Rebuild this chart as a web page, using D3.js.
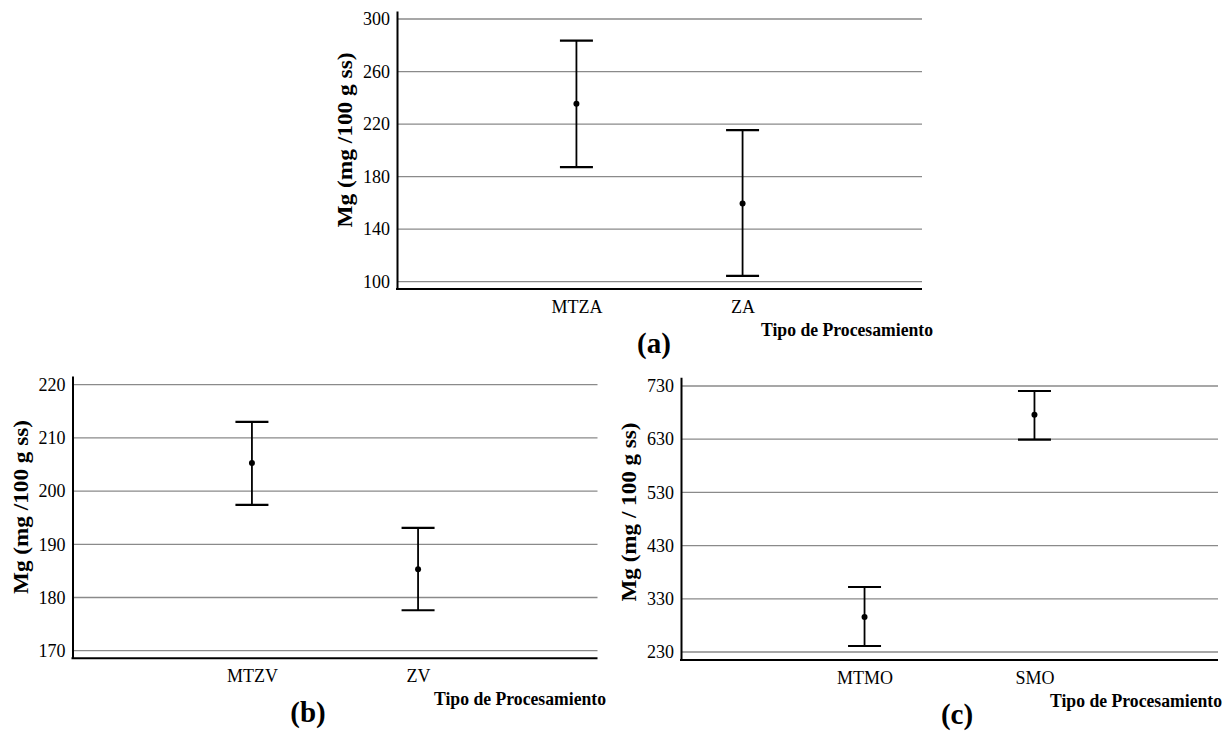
<!DOCTYPE html>
<html>
<head>
<meta charset="utf-8">
<script src="https://cdn.jsdelivr.net/npm/d3@7"></script>
<style>
  html, body { margin: 0; padding: 0; background: #fff; }
  svg { display: block; }
  svg text { font-family: "Liberation Serif", "Times New Roman", serif !important; fill: #000; }
  .tick text { font-size: 18px !important; }
</style>
</head>
<body>
<svg id="chart" width="1229" height="731"></svg>
<script>
// ---- Data ----
const catsA = ["MTZA", "ZA"];
const meanA = [235.5, 159.6];
const upperA = [283.5, 215.4];
const lowerA = [187.2, 104.4];
const ticksA = [100, 140, 180, 220, 260, 300];

const catsB = ["MTZV", "ZV"];
const meanB = [205.3, 185.3];
const upperB = [213.0, 193.1];
const lowerB = [197.4, 177.6];
const ticksB = [170, 180, 190, 200, 210, 220];

const catsC = ["MTMO", "SMO"];
const meanC = [295.8, 676.1];
const upperC = [352.2, 720.6];
const lowerC = [241.3, 629.1];
const ticksC = [230, 330, 430, 530, 630, 730];

const yTitleA = "Mg (mg /100 g ss)";
const yTitleB = "Mg (mg /100 g ss)";
const yTitleC = "Mg (mg / 100 g ss)";
const xTitle = "Tipo de Procesamiento";

// ---- Layout ----
const svg = d3.select("#chart");
const SERIF = "Liberation Serif, Times New Roman, serif";

function panel(cfg) {
  const g = svg.append("g");
  const x = d3.scalePoint().domain(cfg.cats).range([cfg.left, cfg.right]).padding(1.08);
  const y = d3.scaleLinear().domain(cfg.domain).range([cfg.bottom, cfg.top]);

  // grid lines
  g.append("g").selectAll("line").data(cfg.ticks).join("line")
    .attr("x1", cfg.left).attr("x2", cfg.right)
    .attr("y1", d => y(d)).attr("y2", d => y(d))
    .attr("stroke", "#8a8a8a").attr("stroke-width", 1.3);

  // y axis
  const ya = g.append("g").attr("transform", `translate(${cfg.left},0)`)
    .call(d3.axisLeft(y).tickValues(cfg.ticks).tickSize(0).tickPadding(7).tickFormat(d3.format("d")));
  ya.attr("font-family", SERIF).attr("font-size", 18);
  ya.select(".domain").attr("stroke", "#000").attr("stroke-width", 2);
  ya.selectAll("text").attr("fill", "#000");

  // x axis
  const xa = g.append("g").attr("transform", `translate(0,${cfg.bottom})`)
    .call(d3.axisBottom(x).tickSize(0).tickPadding(0));
  xa.attr("font-family", SERIF).attr("font-size", 18);
  xa.select(".domain").attr("stroke", "#000").attr("stroke-width", 2).attr("d", `M${cfg.left - 1},0H${cfg.right}`);
  xa.selectAll("text").attr("dy", null).attr("y", 24).attr("fill", "#000");

  // error bars
  const idx = d3.range(cfg.cats.length);
  const cap = 16.5;
  const eb = g.append("g");
  eb.selectAll("line.v").data(idx).join("line").attr("class", "v")
    .attr("x1", i => x(cfg.cats[i])).attr("x2", i => x(cfg.cats[i]))
    .attr("y1", i => y(cfg.upper[i])).attr("y2", i => y(cfg.lower[i]))
    .attr("stroke", "#000").attr("stroke-width", 1.8);
  eb.selectAll("line.u").data(idx).join("line").attr("class", "u")
    .attr("x1", i => x(cfg.cats[i]) - cap).attr("x2", i => x(cfg.cats[i]) + cap)
    .attr("y1", i => y(cfg.upper[i])).attr("y2", i => y(cfg.upper[i]))
    .attr("stroke", "#000").attr("stroke-width", 2.2);
  eb.selectAll("line.l").data(idx).join("line").attr("class", "l")
    .attr("x1", i => x(cfg.cats[i]) - cap).attr("x2", i => x(cfg.cats[i]) + cap)
    .attr("y1", i => y(cfg.lower[i])).attr("y2", i => y(cfg.lower[i]))
    .attr("stroke", "#000").attr("stroke-width", 2.2);
  eb.selectAll("circle").data(idx).join("circle")
    .attr("cx", i => x(cfg.cats[i])).attr("cy", i => y(cfg.mean[i])).attr("r", 3)
    .attr("fill", "#000");

  // y title
  g.append("text")
    .attr("transform", `translate(${cfg.left - 45},${cfg.yTitleY}) rotate(-90)`)
    .attr("text-anchor", "middle")
    .attr("textLength", cfg.yTitleLen).attr("lengthAdjust", "spacingAndGlyphs")
    .attr("font-size", 21).attr("font-weight", "bold")
    .text(cfg.yTitle);

  // x title
  g.append("text")
    .attr("x", cfg.xTitleX).attr("y", cfg.bottom + 47)
    .attr("textLength", 172).attr("lengthAdjust", "spacingAndGlyphs")
    .attr("font-size", 18).attr("font-weight", "bold")
    .text(xTitle);

  // panel label
  g.append("text")
    .attr("x", cfg.labelX).attr("y", cfg.bottom + 64)
    .attr("text-anchor", "middle")
    .attr("font-size", 29).attr("font-weight", "bold")
    .text(cfg.label);
}

panel({
  cats: catsA, mean: meanA, upper: upperA, lower: lowerA, ticks: ticksA,
  left: 397, right: 922, top: 11, bottom: 289, domain: [94.4, 306.1],
  yTitle: yTitleA, yTitleY: 140, yTitleLen: 175, xTitleX: 761, labelX: 654, label: "(a)"
});
panel({
  cats: catsB, mean: meanB, upper: upperB, lower: lowerB, ticks: ticksB,
  left: 72.5, right: 597.5, top: 376, bottom: 658.3, domain: [168.57, 221.64],
  yTitleY: 507, yTitle: yTitleB, yTitleLen: 174, xTitleX: 434, labelX: 308, label: "(b)"
});
panel({
  cats: catsC, mean: meanC, upper: upperC, lower: lowerC, ticks: ticksC,
  left: 681, right: 1218, top: 377.3, bottom: 660, domain: [214.96, 746.4],
  yTitleY: 512, yTitle: yTitleC, yTitleLen: 179, xTitleX: 1050, labelX: 957, label: "(c)"
});
</script>
</body>
</html>
